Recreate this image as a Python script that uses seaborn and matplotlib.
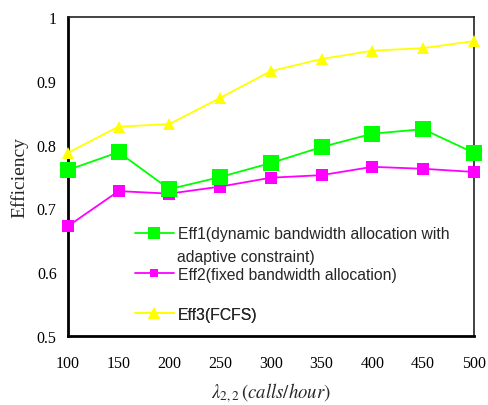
import matplotlib
matplotlib.use("Agg")
import matplotlib.pyplot as plt
import seaborn as sns
import pandas as pd
from matplotlib.lines import Line2D
from matplotlib.ticker import FuncFormatter

x_vals = [100, 150, 200, 250, 300, 350, 400, 450, 500]
eff1 = [0.760, 0.788, 0.730, 0.749, 0.771, 0.796, 0.817, 0.824, 0.787]
eff2 = [0.672, 0.727, 0.723, 0.734, 0.748, 0.752, 0.765, 0.762, 0.757]
eff3 = [0.787, 0.828, 0.832, 0.873, 0.915, 0.934, 0.947, 0.951, 0.962]
series_names = ["Eff1", "Eff2", "Eff3"]
legend_labels = ["Eff1(dynamic bandwidth allocation with", "Eff2(fixed bandwidth allocation)", "Eff3(FCFS)"]
legend_extra = "adaptive constraint)"
x_ticks = [100, 150, 200, 250, 300, 350, 400, 450, 500]
y_ticks = [0.5, 0.6, 0.7, 0.8, 0.9, 1.0]

sns.set_style("white")
plt.rcParams['font.family'] = ['Liberation Serif', 'DejaVu Serif']
plt.rcParams['mathtext.fontset'] = 'stix'

df = pd.DataFrame({
    "x": x_vals * 3,
    "y": eff1 + eff2 + eff3,
    "s": [series_names[0]] * 9 + [series_names[1]] * 9 + [series_names[2]] * 9,
})

colors = {"Eff1": "#00ff00", "Eff2": "#ff00ff", "Eff3": "#ffff00"}
markers = {"Eff1": "s", "Eff2": "s", "Eff3": "^"}
msizes = {"Eff1": 11, "Eff2": 9, "Eff3": 9}
leg_msizes = {"Eff1": 8, "Eff2": 6, "Eff3": 8}

fig = plt.figure(figsize=(4.88, 4.06), dpi=100)
ax = fig.add_axes([0.139, 0.170, 0.832, 0.786])

for name in series_names[::-1]:
    sub = df[df["s"] == name]
    sns.lineplot(data=sub, x="x", y="y", ax=ax, color=colors[name], marker=markers[name],
                 markersize=msizes[name], markeredgewidth=0, linewidth=1.3, legend=False,
                 clip_on=False, zorder=3)

ax.set_xlim(100, 500)
ax.set_ylim(0.5, 1.0)
ax.set_xticks(x_ticks)
ax.set_yticks(y_ticks)
ax.yaxis.set_major_formatter(FuncFormatter(lambda v, p: f"{v:g}"))
ax.tick_params(axis='both', direction='inout', length=8, width=1.2, labelsize=11.5, colors='black')
ax.tick_params(axis='x', pad=10)
ax.tick_params(axis='y', pad=4)
for sp in ['left', 'bottom']:
    ax.spines[sp].set_linewidth(2)
    ax.spines[sp].set_color('black')
for sp in ['top', 'right']:
    ax.spines[sp].set_linewidth(1.2)
    ax.spines[sp].set_color('#222222')

ax.set_ylabel("Efficiency", fontsize=14, labelpad=6)
ax.set_xlabel(r"$\lambda_{2,2}\,(calls/hour)$", fontsize=13.5, labelpad=7)

handles = [Line2D([], [], color=colors[n], marker=markers[n], markersize=leg_msizes[n],
                  markeredgewidth=0, linewidth=1.3) for n in series_names]
legend_y = [0.320, 0.194, 0.068]
for h, lab, yy in zip(handles, legend_labels, legend_y):
    leg = ax.legend([h], [lab], loc='center left', bbox_to_anchor=(0.165, yy),
                    frameon=False, handlelength=2.5, handletextpad=0.25, borderpad=0,
                    borderaxespad=0, prop={'family': 'Liberation Sans', 'size': 11.3})
    ax.add_artist(leg)
ax.text(0.268, 0.250, legend_extra, transform=ax.transAxes, fontsize=11.3,
        family='Liberation Sans', va='center', ha='left')

fig.savefig("out.png", dpi=100)
